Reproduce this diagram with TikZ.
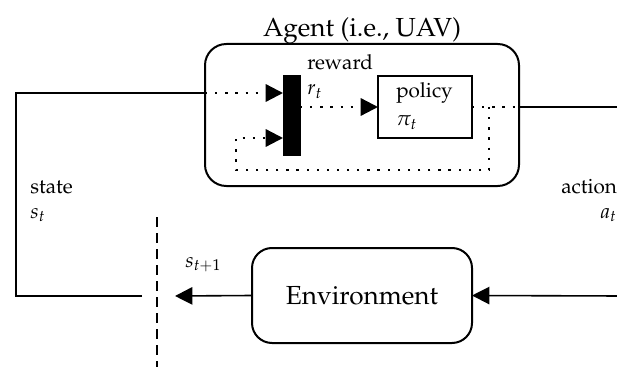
\documentclass[tikz,border=0pt]{standalone}
\usepackage[T1]{fontenc}
\usepackage{mathpazo}
\usetikzlibrary{arrows.meta}
\begin{document}
\begin{tikzpicture}[x=0.75pt,y=-0.75pt,
  box/.style={draw, line width=1.5pt, inner sep=0pt, outer sep=0pt},
  conn/.style={line width=1.2pt},
  dots/.style={line width=1.7pt, dash pattern=on 1.7pt off 5.9pt},
  tip/.style={-{Triangle[length=13pt,width=13pt]}},
  big/.style={font=\fontsize{19.6}{23}\selectfont, inner sep=0pt},
  small/.style={font=\fontsize{15.5}{19}\selectfont, inner sep=0pt, anchor=base west},
]
\useasboundingbox (0,0) rectangle (617,367);

% boxes
\node[box, rounded corners=16pt, minimum width=235.5pt, minimum height=106.5pt] (agent) at (362,115) {};
\node[big, anchor=base] (title) at (362,37) {Agent (i.e., UAV)};
\node[draw, fill=black, inner sep=0pt, outer sep=0pt, minimum width=12.75pt, minimum height=60pt] (bar) at (291.5,115) {};
\node[box, minimum width=70.5pt, minimum height=46.5pt] (policy) at (425,107) {};
\node[box, rounded corners=15pt, minimum width=165pt, minimum height=71.25pt, big] (env) at (362,295.5) {Environment};

% labels
\node[small] (reward) at (307,70) {reward};
\node[small] (rt) at (307,95) {$r_t$};
\node[small] (pol) at (396,98) {policy};
\node[small] (pit) at (396,126) {$\pi_t$};
\node[small] (state) at (30,193) {state};
\node[small] (st) at (30,218) {$s_t$};
\node[small] (action) at (561,193) {action};
\node[small] (at) at (600,218) {$a_t$};
\node[small] (st1) at (185,267) {$s_{t+1}$};

% coordinates
\coordinate (sy) at (0,93);
\coordinate (sL) at (142,296);
\coordinate (corner) at (16,296);
\coordinate (fb) at (489,107);
\coordinate (fbA) at (489,170);
\coordinate (fbB) at (236,138);
\coordinate (aR) at (622,107);
\coordinate (bR) at (622,296);
\coordinate (sTip) at (175,296);
\coordinate (dTop) at (157,217);
\coordinate (dBot) at (157,372);

% connectors
\draw[conn] (sL) -- (corner) |- (agent.west |- sy);
\draw[dots,tip] (agent.west |- sy) -- (bar.west |- sy);
\draw[dots,tip] (bar.east |- policy.west) -- (policy.west);
\draw[dots] (policy.east) -- (agent.east |- policy.east);
\draw[conn] (agent.east |- policy.east) -- (aR);
\draw[dots,tip] (fb) -- (fbA) -| (fbB) -- (bar.west |- fbB);
\draw[conn,tip] (bR) -- (env.east);
\draw[conn,tip] (env.west) -- (sTip);
\draw[line width=1.5pt, dash pattern=on 7.5pt off 4.5pt] (dTop) -- (dBot);
\end{tikzpicture}
\end{document}
